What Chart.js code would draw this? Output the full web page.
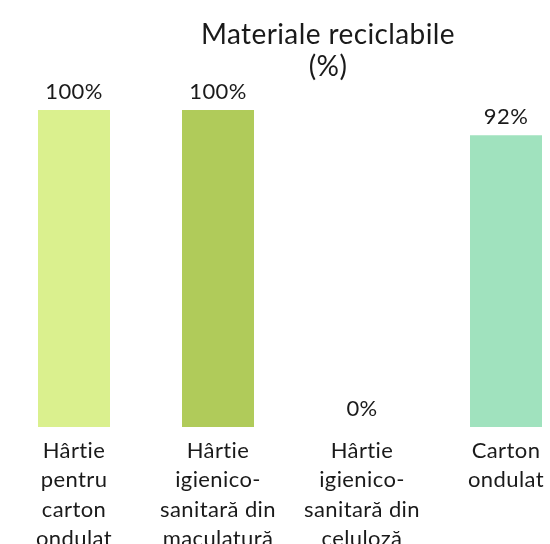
<!DOCTYPE html>
<html lang="ro">
<head>
  <meta charset="UTF-8" />
  <title>Materiale reciclabile</title>
  <script src="https://cdn.jsdelivr.net/npm/chart.js"></script>
  <style>
    html, body { margin: 0; padding: 0; background: #fff; overflow: hidden; }
    #wrap { width: 656px; height: 544px; }
  </style>
</head>
<body>
  <div id="wrap">
    <canvas id="recChart" width="656" height="544"></canvas>
  </div>

  <script>
    // categorii (etichete pe mai multe randuri)
    const categories = [
      ["Hârtie", "pentru", "carton", "ondulat"],
      ["Hârtie", "igienico-", "sanitară din", "maculatură"],
      ["Hârtie", "igienico-", "sanitară din", "celuloză"],
      ["Carton", "ondulat"]
    ];
    // procent reciclabil
    const values = [100, 100, 0, 92];
    const titleLines = ["Materiale reciclabile", "(%)"];
    const barColors = ["#daf08e", "#b0cb5a", "#b0cb5a", "#a0e2be"];

    const FONT = "Lato, 'Open Sans', sans-serif";
    const TEXT = "#1a1a1a";

    // putin spatiu intre litere (si fara ligatura "ti" din Lato)
    const spacing = {
      id: 'spacing',
      beforeDraw(chart) {
        chart.ctx.letterSpacing = "0.4px";
      }
    };

    // titlul, centrat pe toata latimea graficului
    const chartTitle = {
      id: 'chartTitle',
      afterDraw(chart) {
        const { ctx } = chart;
        ctx.save();
        ctx.font = "28px " + FONT;
        ctx.fillStyle = TEXT;
        ctx.textAlign = "center";
        ctx.textBaseline = "middle";
        titleLines.forEach((t, i) => ctx.fillText(t, chart.width / 2, 35 + i * 32));
        ctx.restore();
      }
    };

    // eticheta cu valoarea deasupra fiecarei bare
    const valueLabels = {
      id: 'valueLabels',
      afterDatasetsDraw(chart) {
        const { ctx } = chart;
        const meta = chart.getDatasetMeta(0);
        ctx.save();
        ctx.font = "22px " + FONT;
        ctx.fillStyle = TEXT;
        ctx.textAlign = "center";
        ctx.textBaseline = "middle";
        meta.data.forEach((bar, i) => {
          ctx.fillText(values[i] + "%", bar.x, bar.y - 18);
        });
        ctx.restore();
      }
    };

    const ctx = document.getElementById('recChart').getContext('2d');
    new Chart(ctx, {
      type: 'bar',
      data: {
        labels: categories,
        datasets: [{
          data: values,
          backgroundColor: barColors,
          barPercentage: 1,
          categoryPercentage: 0.5
        }]
      },
      options: {
        responsive: false,
        animation: false,
        layout: { padding: { left: 2, right: 78, top: 110, bottom: 0 } },
        plugins: {
          legend: { display: false },
          tooltip: { enabled: false },
          title: { display: false }
        },
        scales: {
          x: {
            grid: { display: false },
            border: { display: false },
            afterFit(scale) { scale.height = 117; },
            ticks: {
              color: TEXT,
              font: { family: FONT, size: 22, lineHeight: 1.34 },
              padding: 1,
              maxRotation: 0,
              autoSkip: false
            }
          },
          y: {
            display: false,
            min: 0,
            max: 100
          }
        }
      },
      plugins: [spacing, valueLabels, chartTitle]
    });
  </script>
</body>
</html>
